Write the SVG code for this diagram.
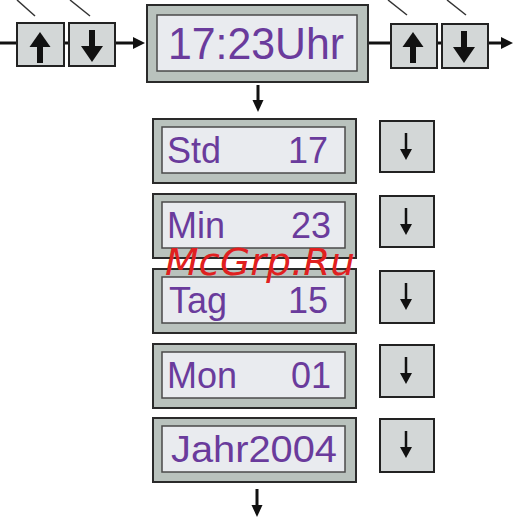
<svg xmlns="http://www.w3.org/2000/svg" xmlns:xlink="http://www.w3.org/1999/xlink" width="513" height="524" viewBox="0 0 513 524">
<style>
.outer{fill:#b9c2bd;stroke:#2a2a2a;stroke-width:2}
.inner{fill:#e9ebef;stroke:#4a4a4a;stroke-width:1.5}
.btn{fill:#d3d7d7;stroke:#222;stroke-width:2}
.lbl{font-family:"Liberation Sans",Arial,sans-serif;font-size:36px;fill:#6a3b9c}
.num{font-family:"Liberation Sans",Arial,sans-serif;font-size:36px;fill:#6a3b9c;text-anchor:end}
.line{stroke:#111;stroke-width:3;fill:none}
.tick{stroke:#333;stroke-width:1.5;fill:none}
.wm{font-family:"DejaVu Sans",sans-serif;font-style:italic;font-size:38px;fill:#e02020}
</style>
<defs>
<g id="smallDown"><line x1="0" y1="-14" x2="0" y2="4" stroke="#111" stroke-width="2.5"/><polygon points="-6,2 6,2 0,13" fill="#111"/></g>
<g id="bigUp"><rect x="-3" y="3" width="6" height="17" fill="#111"/><polygon points="-10.5,4 10.5,4 0,-11" fill="#111"/></g>
<g id="bigDown"><rect x="-3" y="-13" width="6" height="17" fill="#111"/><polygon points="-11,3 11,3 0,19" fill="#111"/></g>
</defs>
<g id="connectors">
<line class="line" x1="0" y1="43" x2="17" y2="43"/>
<line class="line" x1="64" y1="43" x2="69" y2="43"/>
<line class="line" x1="115" y1="43" x2="135" y2="43"/>
<polygon points="133,37 145,43 133,49" fill="#111"/>
<line class="line" x1="368" y1="43" x2="391" y2="43"/>
<line class="line" x1="437" y1="43" x2="442" y2="43"/>
<line class="line" x1="488" y1="43" x2="503" y2="43"/>
<polygon points="501,37 513,43 501,49" fill="#111"/>
<line x1="258" y1="85" x2="258" y2="102" stroke="#111" stroke-width="3"/>
<polygon points="252.5,100 263.5,100 258,112" fill="#111"/>
<line x1="257" y1="489" x2="257" y2="507" stroke="#111" stroke-width="3"/>
<polygon points="251.5,505 262.5,505 257,517" fill="#111"/>
<line class="tick" x1="17" y1="0" x2="35" y2="16"/>
<line class="tick" x1="70" y1="0" x2="90" y2="16"/>
<line class="tick" x1="388" y1="0" x2="407" y2="15"/>
<line class="tick" x1="447" y1="0" x2="466" y2="15"/>
</g>
<g id="btnUpLeft"><rect class="btn" x="17" y="23" width="47" height="43"/><use xlink:href="#bigUp" x="40" y="43"/></g>
<g id="btnDownLeft"><rect class="btn" x="69" y="23" width="46" height="43"/><use xlink:href="#bigDown" x="92" y="43"/></g>
<g id="btnUpRight"><rect class="btn" x="391" y="24" width="46" height="44"/><use xlink:href="#bigUp" x="413" y="43"/></g>
<g id="btnDownRight"><rect class="btn" x="442" y="24" width="46" height="44"/><use xlink:href="#bigDown" x="464" y="44"/></g>
<g id="mainDisplay">
<rect class="outer" x="147" y="5" width="221" height="77"/>
<rect class="inner" x="157" y="15" width="200" height="56"/>
<text x="168" y="59" class="lbl" style="font-size:44px" textLength="176" lengthAdjust="spacingAndGlyphs">17:23Uhr</text>
</g>
<g id="std">
<rect class="outer" x="153" y="119" width="203" height="64"/>
<rect class="inner" x="162" y="127" width="183" height="46"/>
<text x="167" y="163" class="lbl">Std</text><text x="328" y="163" class="num">17</text>
</g>
<g id="min">
<rect class="outer" x="153" y="194" width="203" height="64"/>
<rect class="inner" x="162" y="202" width="183" height="46"/>
<text x="167" y="238" class="lbl">Min</text><text x="331" y="238" class="num">23</text>
</g>
<g id="tag">
<rect class="outer" x="153" y="269" width="203" height="64"/>
<rect class="inner" x="162" y="277" width="183" height="46"/>
<text x="169" y="313" class="lbl">Tag</text><text x="328" y="313" class="num">15</text>
</g>
<g id="mon">
<rect class="outer" x="153" y="344" width="203" height="64"/>
<rect class="inner" x="162" y="352" width="183" height="46"/>
<text x="167" y="388" class="lbl">Mon</text><text x="331" y="388" class="num">01</text>
</g>
<g id="jahr">
<rect class="outer" x="153" y="418" width="203" height="64"/>
<rect class="inner" x="162" y="426" width="183" height="46"/>
<text x="171" y="462" class="lbl" textLength="166" lengthAdjust="spacingAndGlyphs">Jahr2004</text>
</g>
<g id="btnStd"><rect class="btn" x="380" y="121" width="54" height="51"/><use xlink:href="#smallDown" x="406" y="147"/></g>
<g id="btnMin"><rect class="btn" x="380" y="196" width="54" height="51"/><use xlink:href="#smallDown" x="406" y="222"/></g>
<g id="btnTag"><rect class="btn" x="380" y="271" width="54" height="52"/><use xlink:href="#smallDown" x="406" y="297"/></g>
<g id="btnMon"><rect class="btn" x="380" y="345" width="54" height="52"/><use xlink:href="#smallDown" x="406" y="371"/></g>
<g id="btnJahr"><rect class="btn" x="380" y="419" width="54" height="53"/><use xlink:href="#smallDown" x="406" y="445"/></g>
<text x="165" y="275" class="wm" textLength="190" lengthAdjust="spacingAndGlyphs">McGrp.Ru</text>
</svg>
